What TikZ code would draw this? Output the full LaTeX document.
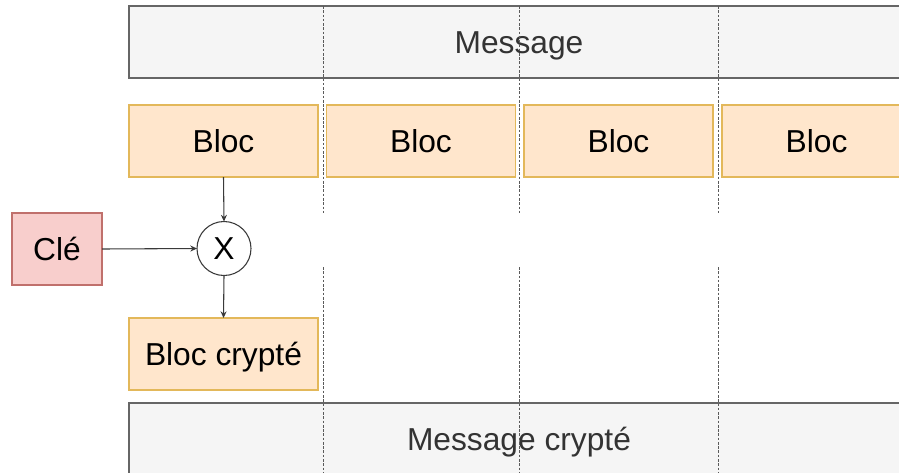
\documentclass[tikz,border=0pt]{standalone}
\usepackage{fontspec}
\setmainfont{Liberation Sans}
\usetikzlibrary{arrows.meta}
\newlength\pxu
\setlength\pxu{0.75pt}
\definecolor{msgfill}{HTML}{F5F5F5}
\definecolor{msgdraw}{HTML}{666666}
\definecolor{msgtext}{HTML}{333333}
\definecolor{blocfill}{HTML}{FFE6CC}
\definecolor{blocdraw}{HTML}{E3B85A}
\definecolor{clefill}{HTML}{F8CECC}
\definecolor{cledraw}{HTML}{C0706C}
\definecolor{sepline}{HTML}{5A5A5A}
\definecolor{arrowcol}{HTML}{3A3A3A}
\tikzset{
  box/.style={rectangle, inner sep=0pt, outer sep=0pt, line width=0.8pt,
    font=\fontsize{23.8}{28}\selectfont, text height=17pt, text depth=0pt},
  msgbox/.style={box, fill=msgfill, draw=msgdraw, text=msgtext,
    minimum width=780*\pxu, minimum height=72*\pxu},
  blocbox/.style={box, fill=blocfill, draw=blocdraw, text=black,
    minimum width=189*\pxu, minimum height=72*\pxu},
  clebox/.style={box, fill=clefill, draw=cledraw, text=black,
    minimum width=90*\pxu, minimum height=72*\pxu},
  opcircle/.style={circle, inner sep=0pt, outer sep=0pt, draw=arrowcol, fill=white,
    line width=0.8pt, minimum size=54*\pxu, font=\fontsize{23.8}{28}\selectfont,
    text height=17pt, text depth=0pt},
  conn/.style={draw=arrowcol, line width=0.8pt, -{Stealth[length=5pt, width=4.5pt]}},
  sep/.style={draw=sepline, line width=0.7pt, dash pattern=on 2pt off 1.2pt},
}
\begin{document}
\begin{tikzpicture}[x=0.75pt, y=-0.75pt]
\useasboundingbox (0,0) rectangle (899,472);
\clip (0,0) rectangle (899,472);
\fill[white] (0,0) rectangle (899,472);

\node[msgbox] (msg) at (519,42) {Message};
\node[msgbox] (msgc) at (519,439) {Message crypté};

\node[blocbox] (b1) at (223.5,141) {Bloc};
\node[blocbox] (b2) at (421,141) {Bloc};
\node[blocbox] (b3) at (618.5,141) {Bloc};
\node[blocbox] (b4) at (816.5,141) {Bloc};

\node[clebox] (cle) at (57,249) {Clé};
\node[opcircle] (op) at (224,248.5) {X};
\node[blocbox] (bc) at (223.5,354) {Bloc crypté};

\draw[conn] (b1.south) -- (op.north);
\draw[conn] (cle.east) -- (op.west);
\draw[conn] (op.south) -- (bc.north);

\coordinate (s1a) at (323,6);   \coordinate (s1b) at (323,214);
\coordinate (s1c) at (323,267); \coordinate (s1d) at (323,472);
\coordinate (s2a) at (519.7,6);   \coordinate (s2b) at (519.7,214);
\coordinate (s2c) at (519.7,267); \coordinate (s2d) at (519.7,472);
\coordinate (s3a) at (718.6,6);   \coordinate (s3b) at (718.6,214);
\coordinate (s3c) at (718.6,267); \coordinate (s3d) at (718.6,472);
\draw[sep] (s1a) -- (s1b) (s1c) -- (s1d);
\draw[sep] (s2a) -- (s2b) (s2c) -- (s2d);
\draw[sep] (s3a) -- (s3b) (s3c) -- (s3d);
\end{tikzpicture}
\end{document}
